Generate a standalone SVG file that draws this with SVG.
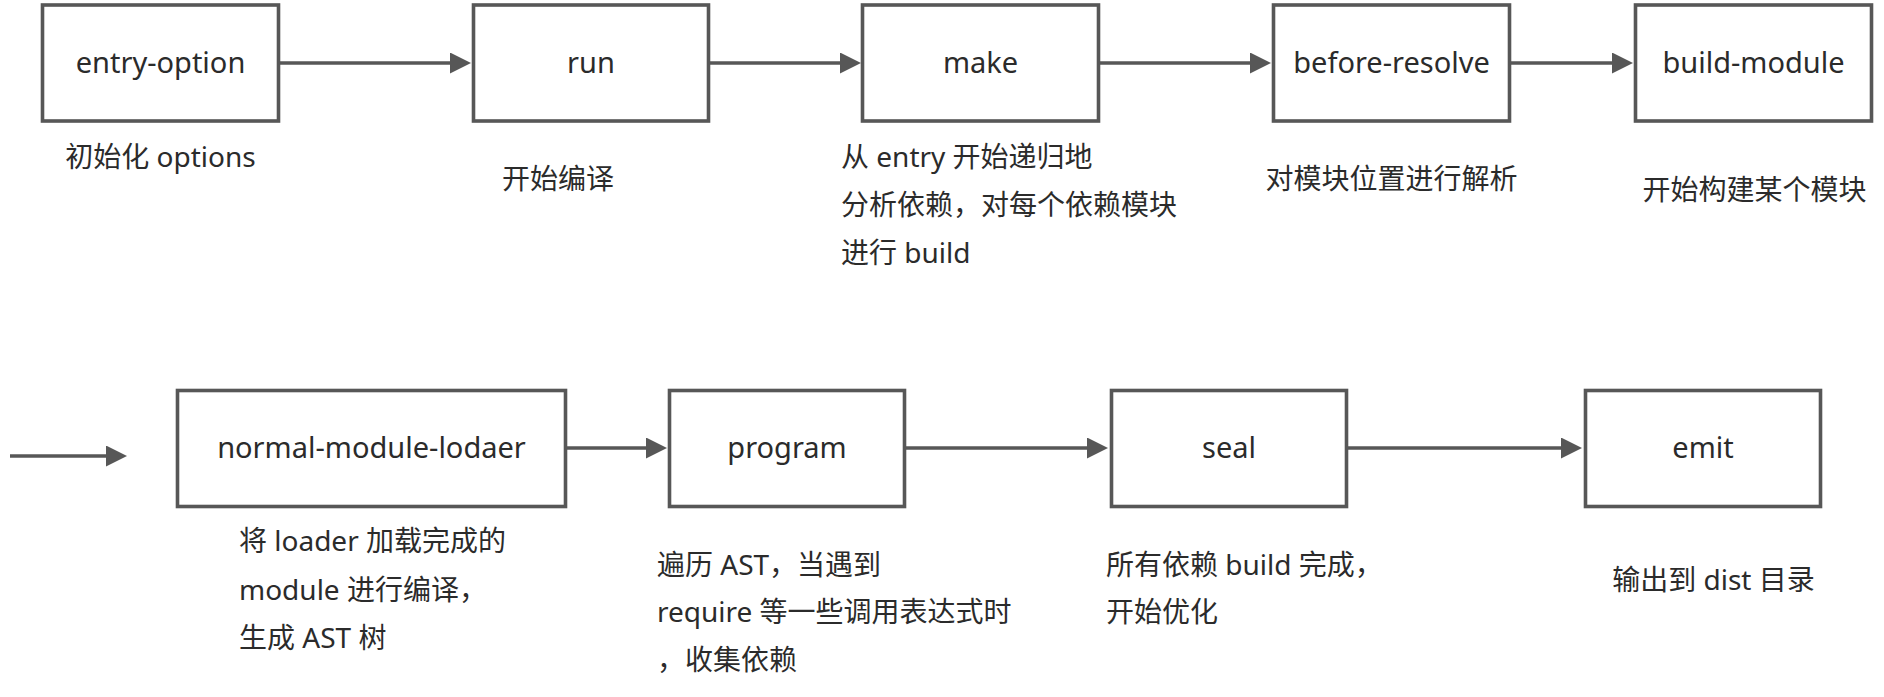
<svg xmlns="http://www.w3.org/2000/svg" width="1884" height="697" viewBox="0 0 1884 697">
<style>
  .box { fill: #ffffff; stroke: #575757; stroke-width: 3.6; }
  .lbl { font-family: "Noto Sans", "Noto Sans CJK SC", sans-serif; font-size: 29px; fill: #2b2b2b; text-anchor: middle; }
  .desc { font-family: "Noto Sans", "Noto Sans CJK SC", sans-serif; font-size: 28px; fill: #2b2b2b; }
  .mid { text-anchor: middle; }
  .edge { stroke: #575757; stroke-width: 3.6; fill: none; marker-end: url(#arrow); }
</style>
<defs>
  <marker id="arrow" markerUnits="userSpaceOnUse" markerWidth="22" markerHeight="22" refX="2" refY="10.5" orient="auto">
    <path d="M0,0 L21,10.5 L0,21 Z" fill="#575757"/>
  </marker>
</defs>
<rect width="1884" height="697" fill="#ffffff"/>

<g id="connectors">
  <line class="edge" x1="280" y1="63" x2="452" y2="63"/>
  <line class="edge" x1="710" y1="63" x2="842" y2="63"/>
  <line class="edge" x1="1099" y1="63" x2="1252" y2="63"/>
  <line class="edge" x1="1511" y1="63" x2="1614" y2="63"/>
  <line class="edge" x1="10" y1="456" x2="108" y2="456"/>
  <line class="edge" x1="567" y1="448" x2="648" y2="448"/>
  <line class="edge" x1="906" y1="448" x2="1089" y2="448"/>
  <line class="edge" x1="1348" y1="448" x2="1563" y2="448"/>
</g>

<g id="node-entry-option">
  <rect class="box" x="42.5" y="5" width="236" height="116"/>
  <text class="lbl" x="160.5" y="73">entry-option</text>
  <text class="desc mid" x="160.5" y="167">初始化 options</text>
</g>
<g id="node-run">
  <rect class="box" x="473.5" y="5" width="235" height="116"/>
  <text class="lbl" x="591" y="73">run</text>
  <text class="desc" x="502" y="189">开始编译</text>
</g>
<g id="node-make">
  <rect class="box" x="862.5" y="5" width="236" height="116"/>
  <text class="lbl" x="980.5" y="73">make</text>
  <text class="desc" x="841" y="167">从 entry 开始递归地</text>
  <text class="desc" x="841" y="215">分析依赖，对每个依赖模块</text>
  <text class="desc" x="841" y="263">进行 build</text>
</g>
<g id="node-before-resolve">
  <rect class="box" x="1273.5" y="5" width="236" height="116"/>
  <text class="lbl" x="1391.5" y="73">before-resolve</text>
  <text class="desc mid" x="1391.5" y="189">对模块位置进行解析</text>
</g>
<g id="node-build-module">
  <rect class="box" x="1635.5" y="5" width="236" height="116"/>
  <text class="lbl" x="1753.5" y="73">build-module</text>
  <text class="desc mid" x="1754.5" y="200">开始构建某个模块</text>
</g>

<g id="node-normal-module-lodaer">
  <rect class="box" x="177.5" y="390.5" width="388" height="116"/>
  <text class="lbl" x="371.5" y="458">normal-module-lodaer</text>
  <text class="desc" x="239" y="551">将 loader 加载完成的</text>
  <text class="desc" x="239" y="600">module 进行编译，</text>
  <text class="desc" x="239" y="648">生成 AST 树</text>
</g>
<g id="node-program">
  <rect class="box" x="669.5" y="390.5" width="235" height="116"/>
  <text class="lbl" x="787" y="458">program</text>
  <text class="desc" x="657" y="575">遍历 AST，当遇到</text>
  <text class="desc" x="657" y="622">require 等一些调用表达式时</text>
  <text class="desc" x="657" y="670">，收集依赖</text>
</g>
<g id="node-seal">
  <rect class="box" x="1111.5" y="390.5" width="235" height="116"/>
  <text class="lbl" x="1229" y="458">seal</text>
  <text class="desc" x="1106" y="575">所有依赖 build 完成，</text>
  <text class="desc" x="1106" y="622">开始优化</text>
</g>
<g id="node-emit">
  <rect class="box" x="1585.5" y="390.5" width="235" height="116"/>
  <text class="lbl" x="1703" y="458">emit</text>
  <text class="desc mid" x="1713.5" y="590">输出到 dist 目录</text>
</g>
</svg>
